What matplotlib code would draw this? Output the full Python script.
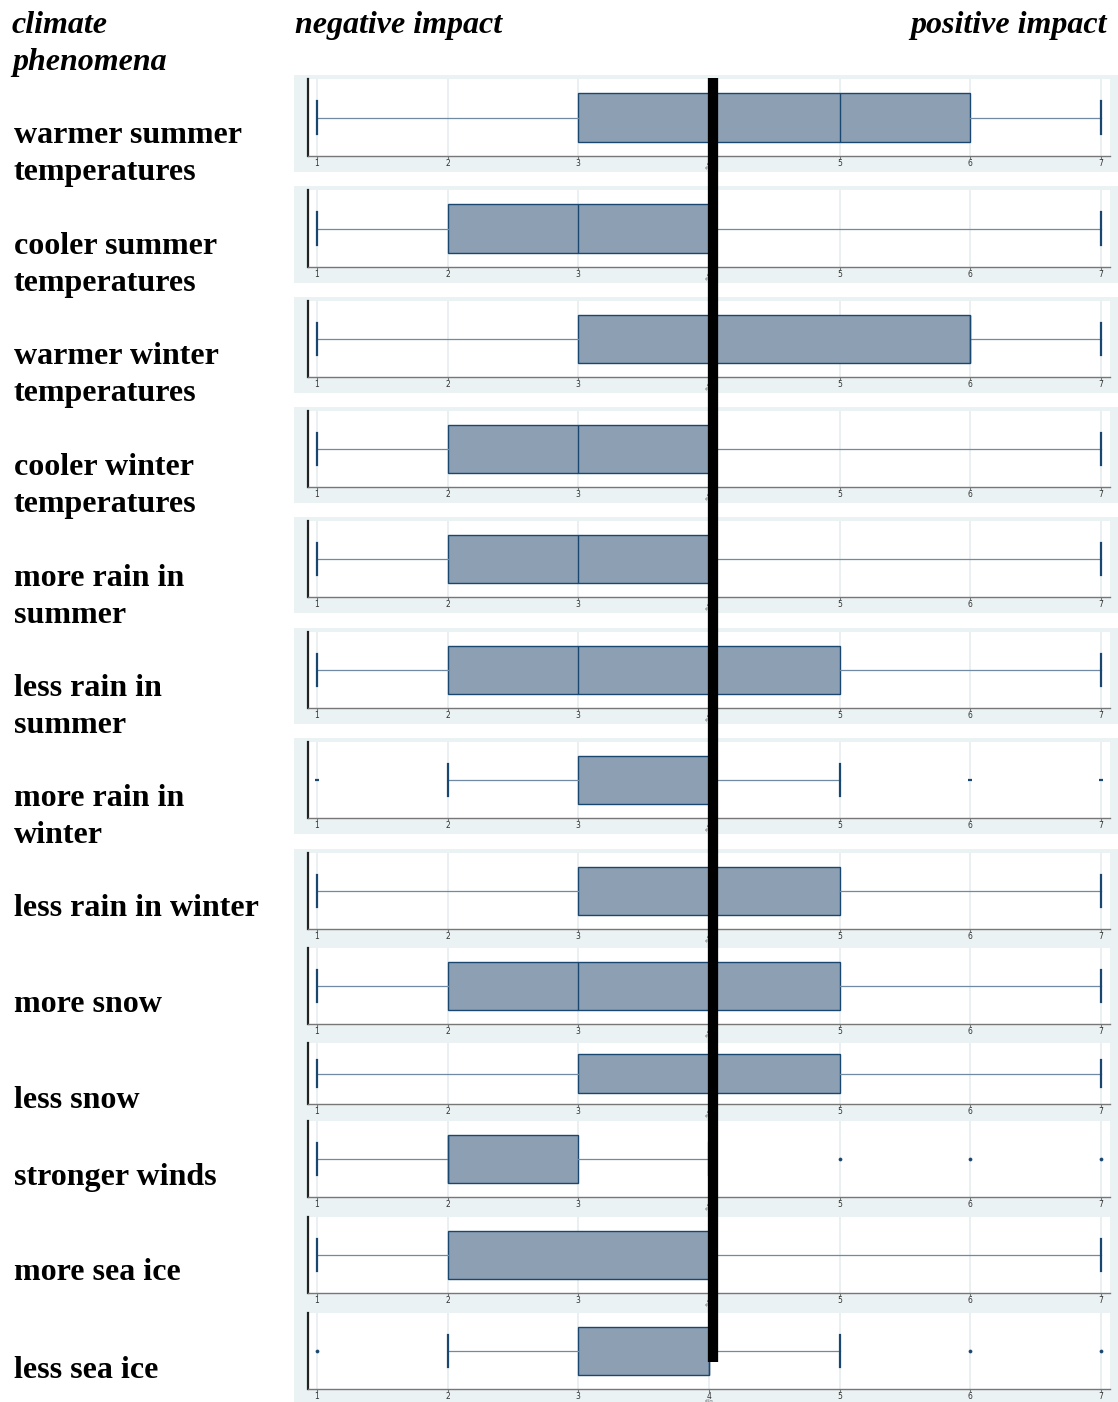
import matplotlib
matplotlib.use("Agg")
import matplotlib.pyplot as plt
from matplotlib.patches import Rectangle

# ---------------- data ----------------
categories = [
    "warmer summer\ntemperatures",
    "cooler summer\ntemperatures",
    "warmer winter\ntemperatures",
    "cooler winter\ntemperatures",
    "more rain in\nsummer",
    "less rain in\nsummer",
    "more rain in\nwinter",
    "less rain in winter",
    "more snow",
    "less snow",
    "stronger winds",
    "more sea ice",
    "less sea ice",
]
whisker_lo = [1, 1, 1, 1, 1, 1, 2, 1, 1, 1, 1, 1, 2]
q1         = [3, 2, 3, 2, 2, 2, 3, 3, 2, 3, 2, 2, 3]
median     = [5, 3, 6, 3, 3, 3, 4, 4, 3, 4, 2, 4, 4]
q3         = [6, 4, 6, 4, 4, 5, 4, 5, 5, 5, 3, 4, 4]
whisker_hi = [7, 7, 7, 7, 7, 7, 5, 7, 7, 7, 4, 7, 5]
outliers   = [[], [], [], [], [], [], [1, 6, 7], [], [], [], [5, 6, 7], [], [1, 6, 7]]
tick_values = [1, 2, 3, 4, 5, 6, 7]
axis_title = "q34m"
header_left = "climate\nphenomena"
header_neg = "negative impact"
header_pos = "positive impact"

# ---------------- layout (pixels) ----------------
W, H = 1118, 1402
inner = [(79, 156), (190, 267), (301, 377), (411, 487), (521, 597), (632, 708),
         (742, 818), (853, 929), (948, 1024), (1043, 1104), (1121, 1197),
         (1217, 1293), (1313, 1389)]
bg_bands = [(75, 172), (186, 283), (297, 393), (407, 503), (517, 613),
            (628, 724), (738, 834), (849, 1402)]
label_y = [154, 265, 375, 486, 597, 707, 817, 908, 1004, 1100, 1177, 1273, 1370]
flier_marker = ['o'] * 13
flier_marker[6] = '_'
XL, XR = 308, 1110
XMIN, XMAX = 1 - 9 / 130.67, 7 + 9 / 130.67

BOX_FACE = "#8c9fb3"
NAVY = "#1a476f"
WHISK = "#6f8aa2"
BG = "#eaf2f3"
GRID = "#e6eef0"
FS = 23
LS = 1.34

fig = plt.figure(figsize=(W / 100, H / 100), dpi=100)
fig.patch.set_facecolor("white")

def fx(x):
    return x / W

def fy(y):
    return 1 - y / H

for (t, b) in bg_bands:
    fig.patches.append(Rectangle((fx(294), fy(b)), fx(W) - fx(294), fy(t) - fy(b),
                                 transform=fig.transFigure, facecolor=BG,
                                 edgecolor="none", zorder=-5))

serif = ["Liberation Serif", "DejaVu Serif"]

for i, (t, b) in enumerate(inner):
    ax = fig.add_axes([fx(XL), fy(b), fx(XR) - fx(XL), fy(t) - fy(b)])
    ax.set_zorder(1)
    ax.set_facecolor("white")
    ax.set_xlim(XMIN, XMAX)
    ax.set_ylim(0, 1)
    for v in tick_values:
        ax.axvline(v, color=GRID, lw=1.2, zorder=0)
    stats = [dict(med=median[i], q1=q1[i], q3=q3[i], whislo=whisker_lo[i],
                  whishi=whisker_hi[i], fliers=outliers[i])]
    is_dash = flier_marker[i] == '_'
    ax.bxp(stats, positions=[0.5], widths=0.64, capwidths=0.43, vert=False,
           patch_artist=True, showfliers=True,
           boxprops=dict(facecolor=BOX_FACE, edgecolor=NAVY, linewidth=1.0),
           medianprops=dict(color=NAVY, linewidth=1.0),
           whiskerprops=dict(color=WHISK, linewidth=0.9),
           capprops=dict(color=NAVY, linewidth=1.6),
           flierprops=dict(marker=flier_marker[i], markersize=3.5 if is_dash else 2.2,
                           markeredgecolor=NAVY, markerfacecolor=NAVY,
                           markeredgewidth=1.6 if is_dash else 0.5))
    for s in ["top", "right"]:
        ax.spines[s].set_visible(False)
    ax.spines["left"].set_color("#222222")
    ax.spines["left"].set_linewidth(1.6)
    ax.spines["bottom"].set_color("#777777")
    ax.spines["bottom"].set_linewidth(1.0)
    ax.set_yticks([])
    ax.set_xticks(tick_values)
    ax.set_xticklabels([str(v) for v in tick_values], fontsize=5.5, color="#333333",
                       family="DejaVu Sans")
    ax.tick_params(axis="x", length=2.0, width=0.8, color="#777777", pad=0)
    ax.annotate(axis_title, xy=(4, 0), xycoords=("data", "axes fraction"),
                xytext=(0, -8.45), textcoords="offset points", fontsize=2.2,
                color="#555555", ha="center", va="center", annotation_clip=False)

    fig.text(fx(14), fy(label_y[i]), categories[i], family=serif, fontweight="bold",
             fontsize=FS, ha="left", va="center", linespacing=LS, color="black")

# headers
fig.text(fx(12), fy(44), header_left, family=serif, fontweight="bold", style="italic",
         fontsize=FS, ha="left", va="center", linespacing=LS)
fig.text(fx(295), fy(26), header_neg, family=serif, fontweight="bold", style="italic",
         fontsize=FS, ha="left", va="center")
fig.text(fx(1107), fy(26), header_pos, family=serif, fontweight="bold", style="italic",
         fontsize=FS, ha="right", va="center")

# thick black reference line at value 4
ov = fig.add_axes([fx(XL), 0, fx(XR) - fx(XL), 1])
ov.set_zorder(5)
ov.set_xlim(XMIN, XMAX)
ov.set_ylim(H, 0)
ov.axis("off")
ov.patch.set_alpha(0)
ov.plot([4.03, 4.03], [78, 1362], color="black", lw=7.4, solid_capstyle="butt")

fig.savefig("out.png", dpi=100)
